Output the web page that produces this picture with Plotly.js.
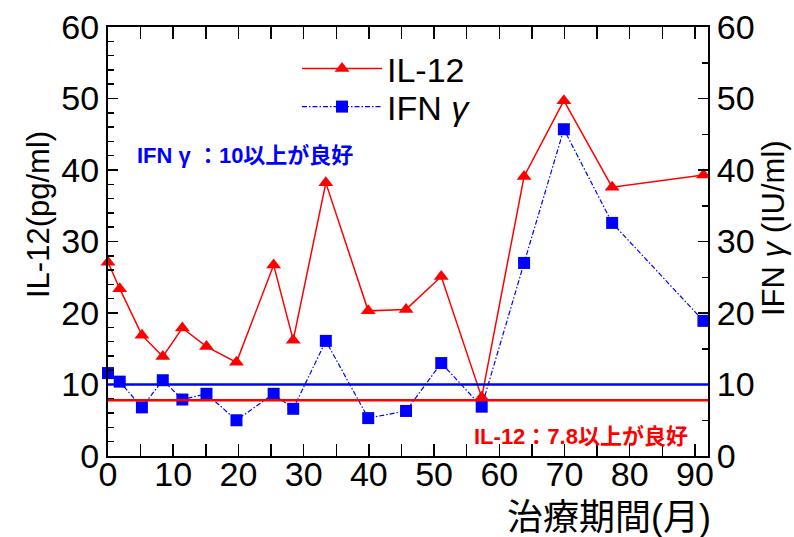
<!DOCTYPE html>
<html>
<head>
<meta charset="utf-8">
<script src="https://cdn.plot.ly/plotly-3.0.1.min.js"></script>
<style>html,body{margin:0;padding:0;background:#fff;}#chart{width:794px;height:537px;}</style>
</head>
<body>
<div id="chart"></div>
<script>
// Treatment months
const months = [0, 1.8, 5.2, 8.4, 11.4, 15.1, 19.7, 25.4, 28.4, 33.4, 39.9, 45.7, 51.1, 57.3, 63.8, 69.9, 77.3, 91.3];
// IL-12 (pg/ml)
const il12 = [27.1, 23.4, 16.9, 13.9, 17.9, 15.3, 13.1, 26.7, 16.2, 38.2, 20.3, 20.5, 25.1, 8.2, 39.1, 49.7, 37.6, 39.3];
// IFN gamma (IU/ml)
const ifng = [11.6, 10.4, 6.8, 10.6, 7.9, 8.7, 5.0, 8.7, 6.6, 16.1, 5.3, 6.3, 13.0, 6.9, 27.0, 45.7, 32.6, 18.9];
// Thresholds
const ifngThreshold = 10;
const il12Threshold = 7.8;
const xTicks = [0, 10, 20, 30, 40, 50, 60, 70, 80, 90];
const yTicks = [0, 10, 20, 30, 40, 50, 60];

const FONT = "Arial, 'Liberation Sans', 'Noto Sans CJK JP', sans-serif";
const CJK = "Arial, 'Liberation Sans', 'Noto Sans CJK JP', sans-serif";

const traces = [
  {
    x: months, y: il12, name: 'IL-12', type: 'scatter', mode: 'lines+markers',
    line: {color: '#ff0000', width: 1.5},
    marker: {symbol: 'triangle-up', size: 13, color: '#ff0000'},
    cliponaxis: false, legend: 'legend',
    xaxis: 'x', yaxis: 'y'
  },
  {
    x: months, y: ifng, name: 'IFN <i>γ</i>', type: 'scatter', mode: 'lines+markers',
    line: {color: '#0000ff', width: 1.2, dash: '5px,2px,1.5px,2px'},
    marker: {symbol: 'square', size: 12, color: '#0000ff'},
    cliponaxis: false, legend: 'legend2',
    xaxis: 'x', yaxis: 'y2'
  }
];

const legendBase = {
  xanchor: 'left', yanchor: 'middle',
  bgcolor: 'rgba(0,0,0,0)', borderwidth: 0,
  font: {family: FONT, size: 34, color: '#000'},
  itemwidth: 80
};

const layout = {
  width: 794, height: 537,
  margin: {l: 108, r: 86, t: 27, b: 81},
  paper_bgcolor: '#ffffff', plot_bgcolor: '#ffffff',
  font: {family: FONT, size: 34, color: '#000'},
  showlegend: true,
  legend: Object.assign({}, legendBase, {x: 0.315, y: (456 - 69) / 429}),
  legend2: Object.assign({}, legendBase, {x: 0.315, y: (456 - 107) / 429}),
  xaxis: {
    range: [0, 92], tickmode: 'array', tickvals: xTicks, ticktext: xTicks.map(String),
    ticks: 'inside', ticklen: 12, tickwidth: 1.5, tickcolor: '#000',
    minor: {dtick: 5, tick0: 0, ticks: 'inside', ticklen: 7, tickwidth: 1.5, tickcolor: '#000', showgrid: false},
    showline: true, linewidth: 2, linecolor: '#000', mirror: 'allticks',
    showgrid: false, zeroline: false, ticklabelstandoff: -13,
    tickfont: {family: FONT, size: 34, color: '#000'}
  },
  yaxis: {
    range: [0, 60], tickmode: 'array', tickvals: yTicks, ticktext: yTicks.map(String),
    ticks: 'inside', ticklen: 10, tickwidth: 1.5, tickcolor: '#000',
    minor: {dtick: 2, tick0: 0, ticks: 'inside', ticklen: 6, tickwidth: 1.5, tickcolor: '#000', showgrid: false},
    showline: true, linewidth: 2, linecolor: '#000',
    showgrid: false, zeroline: false,
    tickfont: {family: FONT, size: 34, color: '#000'}
  },
  yaxis2: {
    range: [0, 60], overlaying: 'y', side: 'right',
    tickmode: 'array', tickvals: yTicks, ticktext: yTicks.map(String),
    ticks: 'inside', ticklen: 10, tickwidth: 1.5, tickcolor: '#000',
    minor: {dtick: 5, tick0: 0, ticks: 'inside', ticklen: 6, tickwidth: 1.5, tickcolor: '#000', showgrid: false},
    showline: true, linewidth: 2, linecolor: '#000',
    showgrid: false, zeroline: false,
    tickfont: {family: FONT, size: 34, color: '#000'}
  },
  shapes: [
    {type: 'line', xref: 'paper', x0: 0, x1: 1, yref: 'y', y0: ifngThreshold, y1: ifngThreshold,
     line: {color: '#0000ff', width: 2.5}},
    {type: 'line', xref: 'paper', x0: 0, x1: 1, yref: 'y', y0: il12Threshold, y1: il12Threshold,
     line: {color: '#ff0000', width: 2.5}}
  ],
  annotations: [
    {xref: 'paper', yref: 'paper', x: 0.2275, y: 0.7016, xanchor: 'center', yanchor: 'middle',
     text: '<b>IFN γ ：10以上が良好</b>', showarrow: false,
     font: {family: CJK, size: 22, color: '#0000ff'}},
    {xref: 'paper', yref: 'paper', x: 0.7875, y: 0.0443, xanchor: 'center', yanchor: 'middle',
     text: '<b>IL-12：7.8以上が良好</b>', showarrow: false,
     font: {family: CJK, size: 22, color: '#ff0000'}},
    {xref: 'paper', yref: 'paper', x: (38 - 108) / 600, y: (456 - 215) / 429, xanchor: 'center', yanchor: 'middle',
     text: 'IL-12(pg/ml)', textangle: -90, showarrow: false,
     font: {family: FONT, size: 31, color: '#000'}},
    {xref: 'paper', yref: 'paper', x: (773 - 108) / 600, y: (456 - 228) / 429, xanchor: 'center', yanchor: 'middle',
     text: 'IFN <i>γ</i> (IU/ml)', textangle: -90, showarrow: false,
     font: {family: FONT, size: 31, color: '#000'}},
    {xref: 'paper', yref: 'paper', x: (713 - 108) / 600, y: (456 - 517) / 429, xanchor: 'right', yanchor: 'middle',
     text: '治療期間(月)', showarrow: false,
     font: {family: FONT, size: 36, color: '#000'}}
  ]
};

Plotly.newPlot('chart', traces, layout, {displayModeBar: false, staticPlot: true});
</script>
</body>
</html>
